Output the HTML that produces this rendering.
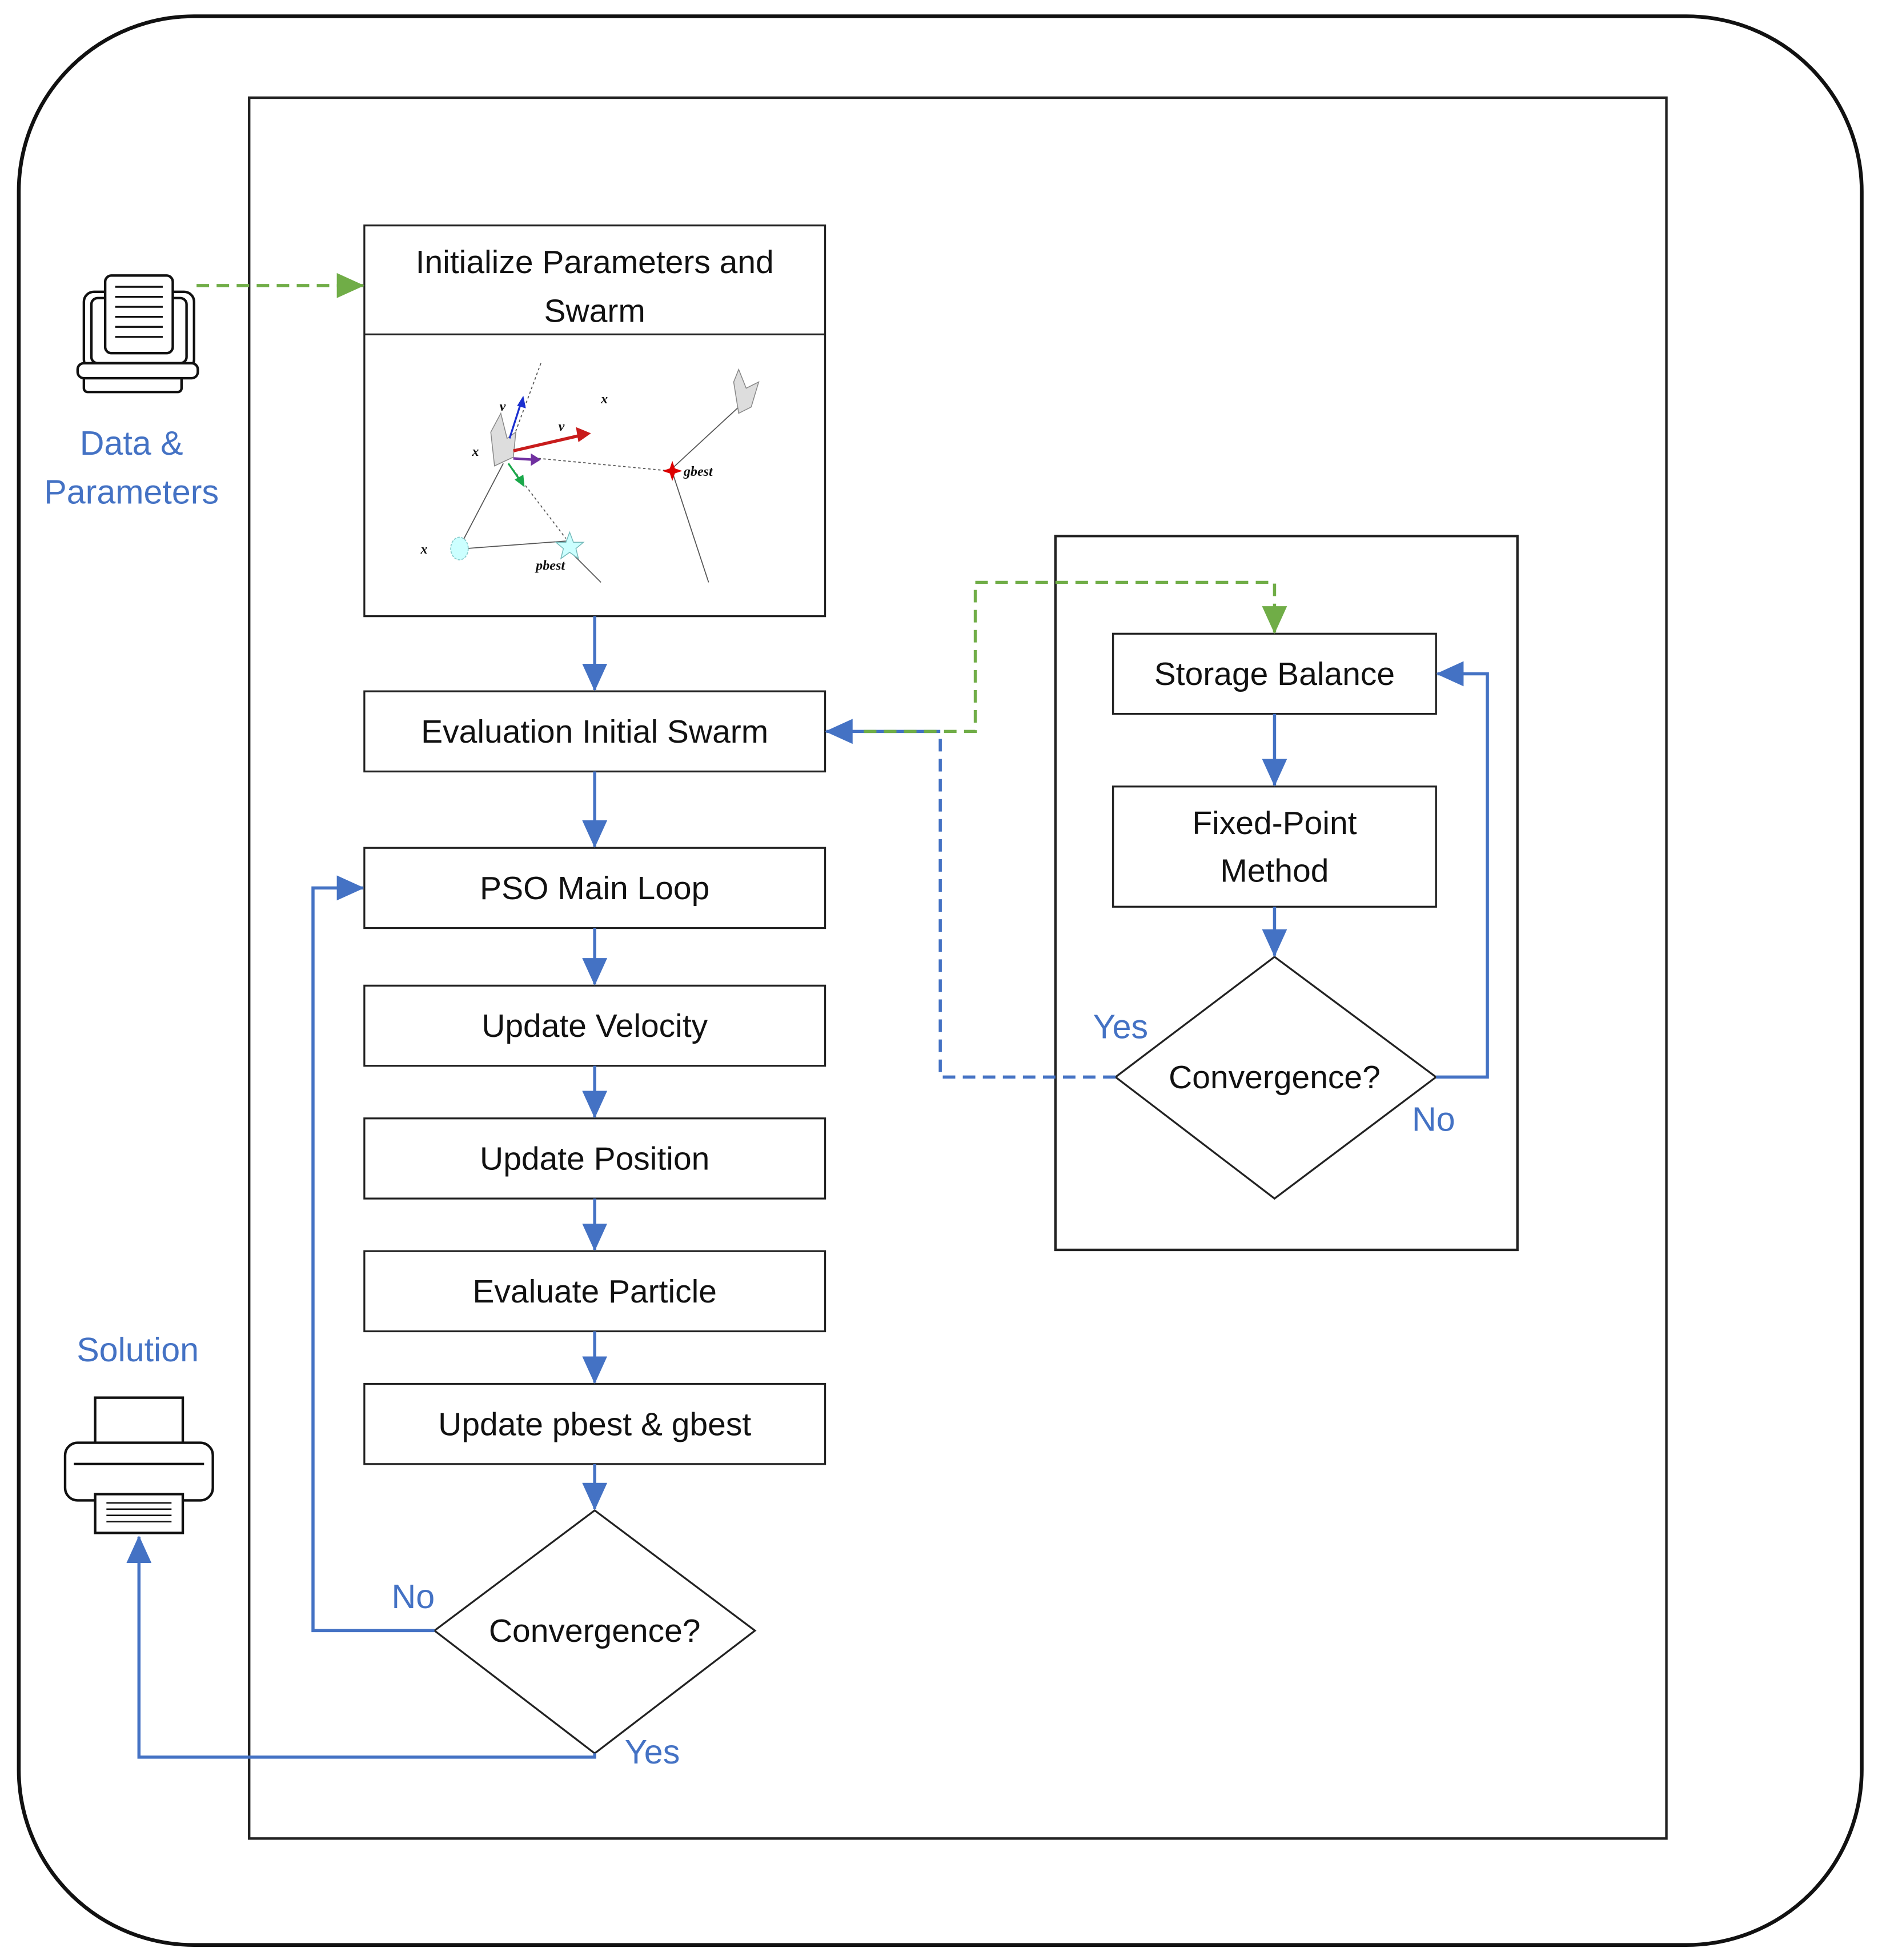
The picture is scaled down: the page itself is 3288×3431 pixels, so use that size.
<!DOCTYPE html>
<html><head><meta charset="utf-8"><style>html,body{margin:0;padding:0;background:#fff}svg{display:block}</style></head>
<body>
<svg width="3288" height="3431" viewBox="0 0 1500 1565" preserveAspectRatio="none" xmlns="http://www.w3.org/2000/svg" font-family="Liberation Sans, sans-serif">
<defs>
<marker id="ab" markerWidth="22" markerHeight="20" refX="21" refY="10" orient="auto" markerUnits="userSpaceOnUse" viewBox="0 0 22 20"><path d="M0,0 L22,10 L0,20 z" fill="#4472C4"/></marker>
<marker id="ag" markerWidth="22" markerHeight="20" refX="21" refY="10" orient="auto" markerUnits="userSpaceOnUse" viewBox="0 0 22 20"><path d="M0,0 L22,10 L0,20 z" fill="#70AD47"/></marker>
</defs>
<style>
.b{fill:#fff;stroke:#222;stroke-width:1.5}
.t{font-size:26px;fill:#111;text-anchor:middle}
.l{font-size:27px;fill:#4472C4;text-anchor:middle}
.bl{fill:none;stroke:#4472C4;stroke-width:2.5}
.m{marker-end:url(#ab)}
</style>
<rect x="15" y="13" width="1472" height="1540" rx="140" fill="none" stroke="#111" stroke-width="3"/>
<rect x="199" y="78" width="1132" height="1390" fill="none" stroke="#222" stroke-width="2"/>
<rect x="843" y="428" width="369" height="570" fill="none" stroke="#222" stroke-width="2"/>

<rect class="b" x="291" y="180" width="368" height="312"/>
<line x1="291" y1="267" x2="659" y2="267" stroke="#222" stroke-width="1.5"/>
<text class="t" x="475" y="218">Initialize Parameters and</text>
<text class="t" x="475" y="257">Swarm</text>
<g stroke="#555" stroke-width="0.8" fill="none">
<line x1="432" y1="290" x2="408" y2="355" stroke-dasharray="2,2"/>
<line x1="402" y1="370" x2="368" y2="435"/>
<line x1="372" y1="438" x2="452" y2="432"/>
<line x1="410" y1="375" x2="452" y2="430" stroke-dasharray="2,2"/>
<line x1="455" y1="440" x2="480" y2="465"/>
<line x1="430" y1="366" x2="535" y2="376" stroke-dasharray="2,2"/>
<line x1="538" y1="373" x2="590" y2="325"/>
<line x1="538" y1="380" x2="566" y2="465"/>
</g>
<path d="M395,372 L392,345 L400,330 L405,350 L412,345 L410,365 Z" fill="#ddd" stroke="#888" stroke-width="0.7"/>
<path d="M590,330 L586,305 L590,295 L596,310 L606,305 L600,325 Z" fill="#ddd" stroke="#888" stroke-width="0.7"/>
<line x1="407" y1="350" x2="416" y2="322" stroke="#1a2fd0" stroke-width="1.5"/>
<path d="M418,316 L420,326 L413,324 Z" fill="#1a2fd0"/>
<line x1="410" y1="360" x2="462" y2="348" stroke="#c81c1c" stroke-width="2.5"/>
<path d="M472,346 L460,341 L462,353 Z" fill="#c81c1c"/>
<line x1="410" y1="366" x2="425" y2="367" stroke="#7030a0" stroke-width="2"/>
<path d="M432,367 L424,362 L424,372 Z" fill="#7030a0"/>
<line x1="406" y1="370" x2="415" y2="383" stroke="#1aa84a" stroke-width="1.5"/>
<path d="M419,389 L411,383 L418,379 Z" fill="#1aa84a"/>
<ellipse cx="367" cy="438" rx="7" ry="9" fill="#cff" stroke="#8cc" stroke-width="0.8" stroke-dasharray="2,1"/>
<path d="M455,425 L458,433 L466,433 L460,438 L462,446 L455,441 L448,446 L450,438 L444,433 L452,433 Z" fill="#cff" stroke="#7bb" stroke-width="0.7"/>
<path d="M537,368 L539,374 L545,376 L539,378 L537,384 L535,378 L529,376 L535,374 Z" fill="#d00"/>
<g font-family="Liberation Serif, serif" font-style="italic" font-size="11" fill="#111" font-weight="bold">
<text x="399" y="328">v</text><text x="446" y="344">v</text><text x="480" y="322">x</text>
<text x="377" y="364">x</text><text x="336" y="442">x</text><text x="428" y="455">pbest</text><text x="546" y="380">gbest</text>
</g>

<rect class="b" x="291" y="552" width="368" height="64"/><text class="t" x="475" y="593">Evaluation Initial Swarm</text>
<rect class="b" x="291" y="677" width="368" height="64"/><text class="t" x="475" y="718">PSO Main Loop</text>
<rect class="b" x="291" y="787" width="368" height="64"/><text class="t" x="475" y="828">Update Velocity</text>
<rect class="b" x="291" y="893" width="368" height="64"/><text class="t" x="475" y="934">Update Position</text>
<rect class="b" x="291" y="999" width="368" height="64"/><text class="t" x="475" y="1040">Evaluate Particle</text>
<rect class="b" x="291" y="1105" width="368" height="64"/><text class="t" x="475" y="1146">Update pbest &amp; gbest</text>
<path class="b" d="M475,1206 L603,1302 L475,1400 L347,1302 Z" stroke-width="1"/>
<text class="t" x="475" y="1311">Convergence?</text>

<rect class="b" x="889" y="506" width="258" height="64"/><text class="t" x="1018" y="547">Storage Balance</text>
<rect class="b" x="889" y="628" width="258" height="96"/><text class="t" x="1018" y="666">Fixed-Point</text><text class="t" x="1018" y="704">Method</text>
<path class="b" d="M1018,764 L1147,860 L1018,957 L891,860 Z" stroke-width="1"/>
<text class="t" x="1018" y="869">Convergence?</text>

<g class="bl">
<line class="m" x1="475" y1="492" x2="475" y2="551"/>
<line class="m" x1="475" y1="616" x2="475" y2="676"/>
<line class="m" x1="475" y1="741" x2="475" y2="786"/>
<line class="m" x1="475" y1="851" x2="475" y2="892"/>
<line class="m" x1="475" y1="957" x2="475" y2="998"/>
<line class="m" x1="475" y1="1063" x2="475" y2="1104"/>
<line class="m" x1="475" y1="1169" x2="475" y2="1205"/>
<line class="m" x1="1018" y1="570" x2="1018" y2="627"/>
<line class="m" x1="1018" y1="724" x2="1018" y2="763"/>
<polyline class="m" points="347,1302 250,1302 250,709 290,709"/>
<polyline class="m" points="475,1400 475,1403 111,1403 111,1227"/>
<polyline class="m" points="1147,860 1188,860 1188,538 1148,538"/>
<line class="m" x1="751" y1="584" x2="660" y2="584"/>
<polyline points="891,860 751,860 751,584" stroke-dasharray="10,6"/>
</g>
<g fill="none" stroke="#70AD47" stroke-width="2.5" stroke-dasharray="10,6">
<line x1="157" y1="228" x2="290" y2="228" marker-end="url(#ag)"/>
<polyline points="690,584 779,584 779,465 1018,465 1018,505" marker-end="url(#ag)"/>
</g>

<text class="l" x="330" y="1284">No</text>
<text class="l" x="521" y="1408">Yes</text>
<text class="l" x="895" y="829">Yes</text>
<text class="l" x="1145" y="903">No</text>
<text class="l" x="105" y="363">Data &amp;</text>
<text class="l" x="105" y="402">Parameters</text>
<text class="l" x="110" y="1087">Solution</text>

<g fill="#fff" stroke="#111" stroke-width="2">
<rect x="67" y="233" width="88" height="62" rx="8"/>
<rect x="73" y="238" width="76" height="52" rx="5"/>
<rect x="67" y="295" width="78" height="18" rx="3"/>
<rect x="62" y="290" width="96" height="12" rx="5"/>
<rect x="84" y="220" width="54" height="62" rx="5"/>
<g stroke-width="1.5"><line x1="92" y1="229" x2="130" y2="229"/><line x1="92" y1="237" x2="130" y2="237"/><line x1="92" y1="245" x2="130" y2="245"/><line x1="92" y1="253" x2="130" y2="253"/><line x1="92" y1="261" x2="130" y2="261"/><line x1="92" y1="269" x2="130" y2="269"/></g>
</g>
<g fill="#fff" stroke="#111" stroke-width="2">
<rect x="76" y="1116" width="70" height="38"/>
<rect x="52" y="1152" width="118" height="46" rx="10"/>
<line x1="59" y1="1169" x2="163" y2="1169"/>
<rect x="76" y="1193" width="70" height="31"/>
<g stroke-width="1.2"><line x1="85" y1="1200" x2="137" y2="1200"/><line x1="85" y1="1205" x2="137" y2="1205"/><line x1="85" y1="1210" x2="137" y2="1210"/><line x1="85" y1="1215" x2="137" y2="1215"/></g>
</g>
</svg>
</body></html>
